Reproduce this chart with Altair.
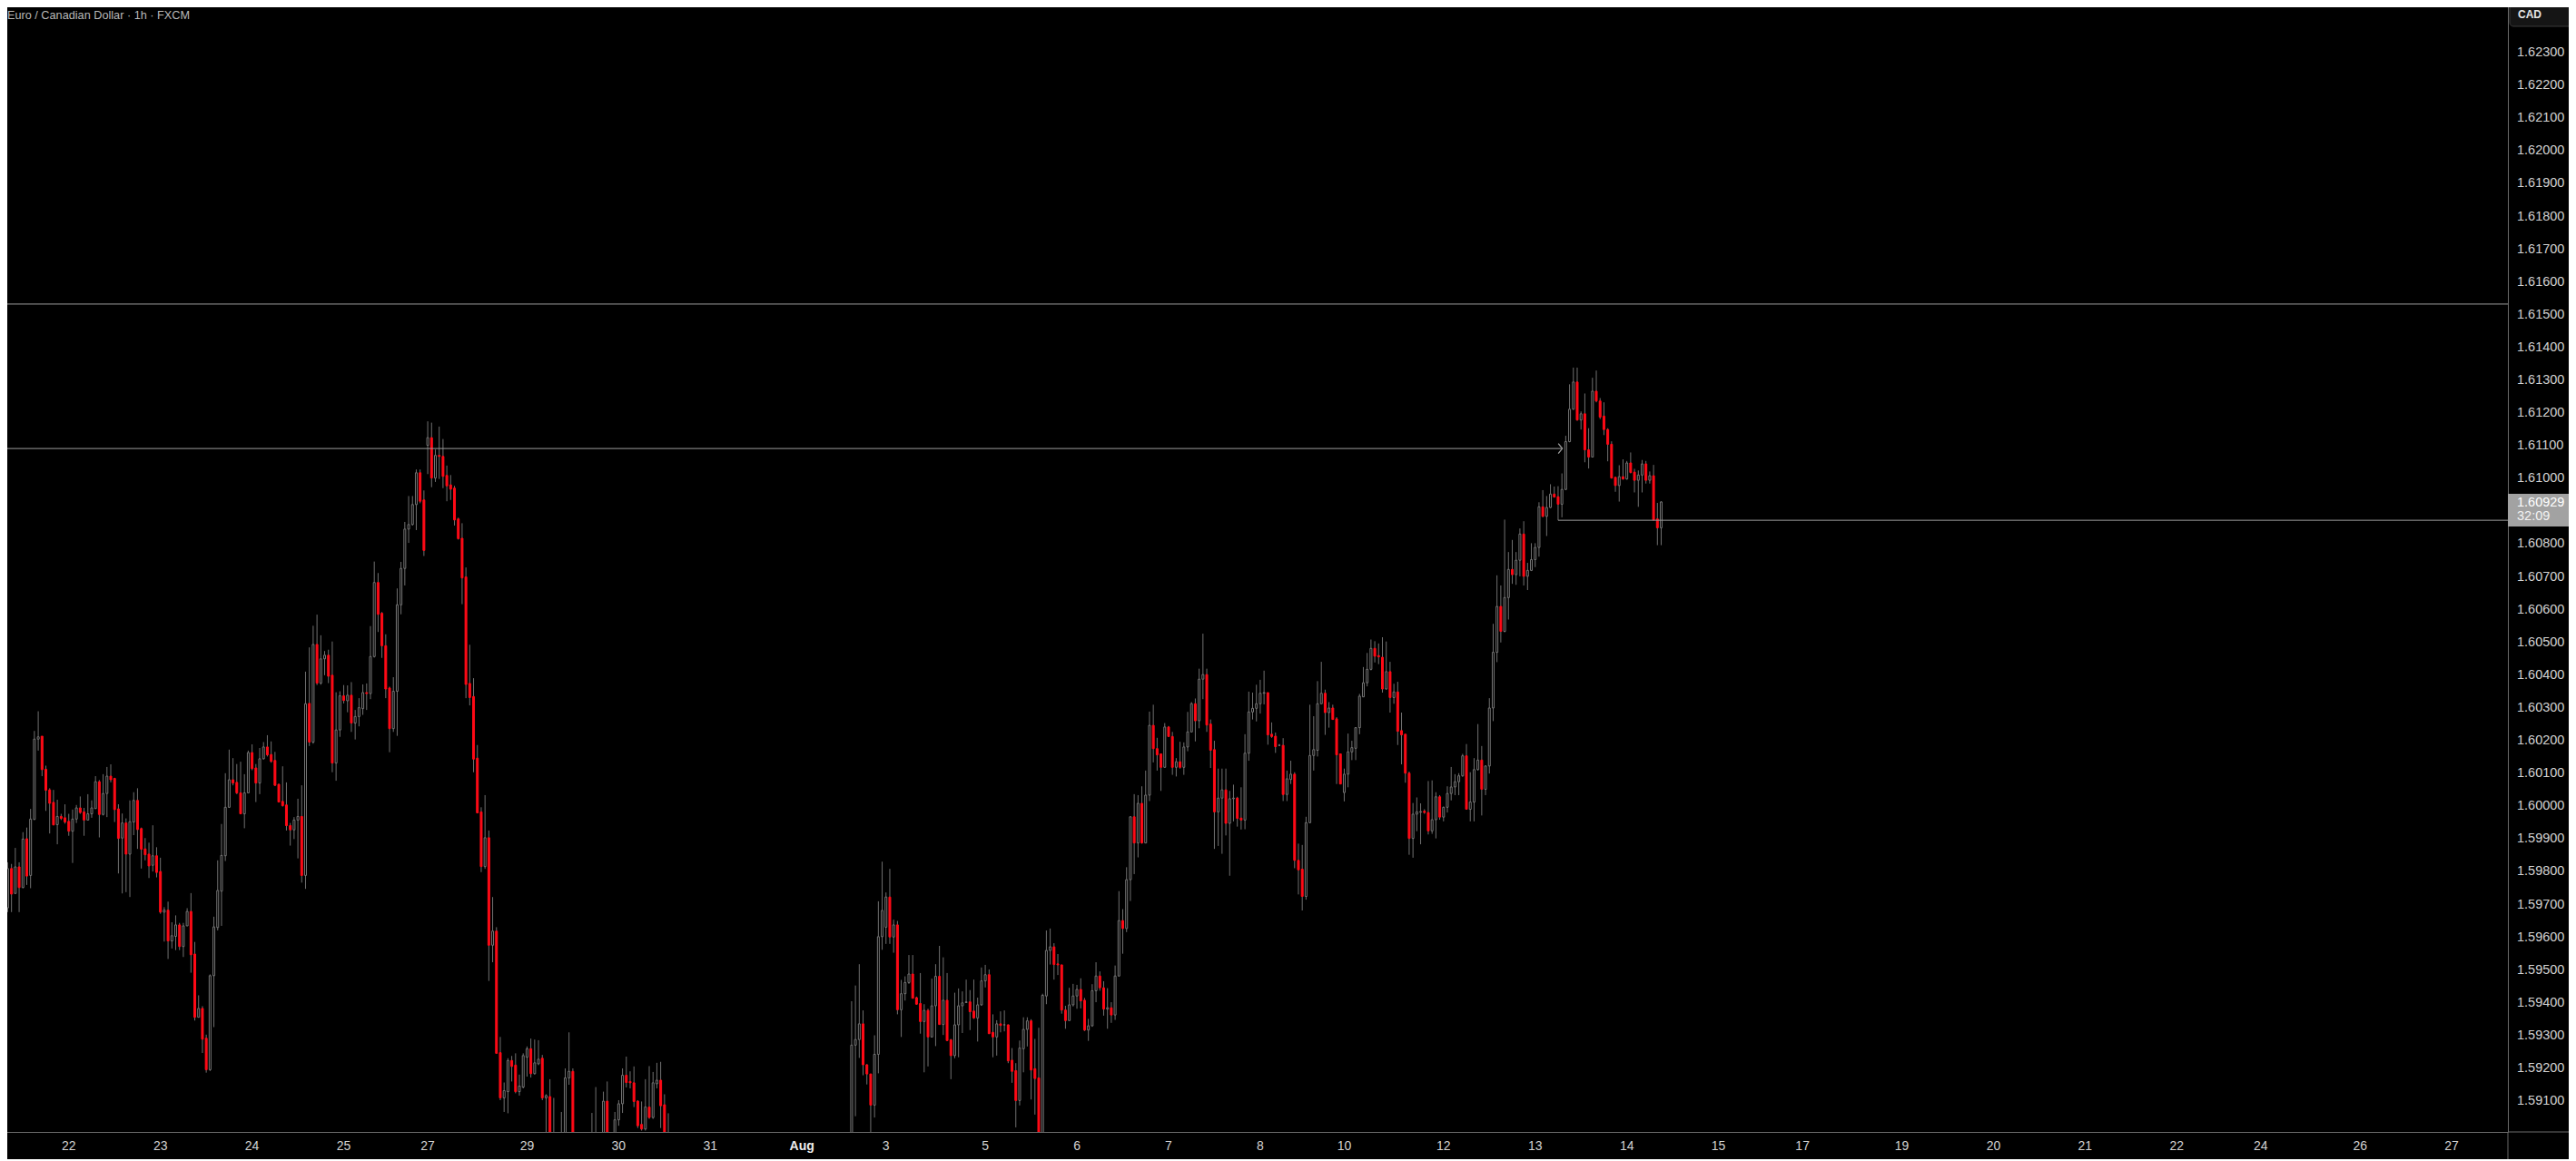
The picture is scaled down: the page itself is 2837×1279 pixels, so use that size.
import altair as alt
import pandas as pd

# ---------------- text ----------------
TITLE = "Euro / Canadian Dollar · 1h · FXCM"
CURRENCY = "CAD"
COUNTDOWN = "32:09"

# ---------------- candles (hourly bar number, 0 = 22 Jul 00:00; weekends skipped) ----------------
IDX = (list(range(-17, 128)) + [129, 130, 131, 132, 137, 138, 140, 141]
       + list(range(143, 158)) + list(range(205, 418)))

OPEN = [
    1.59572, 1.59690, 1.59810, 1.59734, 1.59815, 1.59752, 1.59901, 1.59789, 1.59960, 1.60205,
    1.60214, 1.60113, 1.60050, 1.60012, 1.59944, 1.59969, 1.59965, 1.59954, 1.59924, 1.59961,
    1.59995, 1.59983, 1.59958, 1.59977, 1.59993, 1.60075, 1.59975, 1.60039, 1.60092, 1.60085,
    1.59992, 1.59903, 1.59949, 1.59854, 1.59952, 1.60018, 1.59932, 1.59870, 1.59854, 1.59820,
    1.59849, 1.59801, 1.59677, 1.59683, 1.59589, 1.59603, 1.59638, 1.59572, 1.59635, 1.59679,
    1.59549, 1.59356, 1.59383, 1.59292, 1.59196, 1.59483, 1.59630, 1.59741, 1.59849, 1.59997,
    1.60081, 1.60073, 1.60041, 1.59977, 1.60041, 1.60164, 1.60117, 1.60071, 1.60145, 1.60181,
    1.60158, 1.60140, 1.60067, 1.60015, 1.60004, 1.59941, 1.59928, 1.59958, 1.59969, 1.59789,
    1.60314, 1.60196, 1.60494, 1.60376, 1.60450, 1.60461, 1.60400, 1.60132, 1.60233, 1.60337,
    1.60322, 1.60339, 1.60254, 1.60274, 1.60298, 1.60347, 1.60344, 1.60457, 1.60683, 1.60589,
    1.60490, 1.60361, 1.60237, 1.60351, 1.60615, 1.60726, 1.60846, 1.60860, 1.60921, 1.61018,
    1.60935, 1.61102, 1.61125, 1.61002, 1.61071, 1.61068, 1.61010, 1.60981, 1.60971, 1.60877,
    1.60818, 1.60700, 1.60375, 1.60335, 1.60147, 1.59983, 1.59816, 1.59904, 1.59576, 1.59619,
    1.59248, 1.59110, 1.59129, 1.59224, 1.59210, 1.59129, 1.59143, 1.59234, 1.59260, 1.59184,
    1.59214, 1.59231, 1.59110, 1.59114, 1.58930,
    1.58920, 1.58980, 1.59171, 1.59191, 1.58930, 1.58980, 1.58950, 1.59100,
    1.58980, 1.59043, 1.59092, 1.59179, 1.59160, 1.59156, 1.59100, 1.59029, 1.59015, 1.59082,
    1.59050, 1.59153, 1.59164, 1.59089, 1.58950,
    1.58970, 1.59271, 1.59288, 1.59336, 1.59211, 1.59183, 1.59088, 1.59243, 1.59602, 1.59631,
    1.59723, 1.59601, 1.59638, 1.59379, 1.59428, 1.59462, 1.59488, 1.59416, 1.59398, 1.59343,
    1.59377, 1.59296, 1.59391, 1.59481, 1.59334, 1.59408, 1.59287, 1.59239, 1.59333, 1.59391,
    1.59401, 1.59403, 1.59375, 1.59354, 1.59394, 1.59467, 1.59486, 1.59310, 1.59296, 1.59336,
    1.59333, 1.59333, 1.59225, 1.59193, 1.59102, 1.59260, 1.59319, 1.59345, 1.59199, 1.59171,
    1.58980, 1.59421, 1.59560, 1.59571, 1.59519, 1.59516, 1.59378, 1.59346, 1.59394, 1.59421,
    1.59441, 1.59408, 1.59317, 1.59330, 1.59437, 1.59482, 1.59446, 1.59381, 1.59385, 1.59363,
    1.59482, 1.59651, 1.59627, 1.59776, 1.59968, 1.59888, 1.60009, 1.59888, 1.60034, 1.60247,
    1.60176, 1.60160, 1.60119, 1.60242, 1.60213, 1.60119, 1.60136, 1.60119, 1.60181, 1.60227,
    1.60313, 1.60261, 1.60388, 1.60402, 1.60251, 1.60173, 1.59983, 1.60025, 1.60050, 1.59948,
    1.60023, 1.60025, 1.59964, 1.59958, 1.60162, 1.60288, 1.60299, 1.60313, 1.60345, 1.60347,
    1.60220, 1.60214, 1.60186, 1.60186, 1.60036, 1.60082, 1.60098, 1.59835, 1.59808, 1.59725,
    1.59950, 1.60155, 1.60171, 1.60313, 1.60345, 1.60286, 1.60300, 1.60267, 1.60160, 1.60042,
    1.60098, 1.60166, 1.60177, 1.60240, 1.60334, 1.60377, 1.60418, 1.60482, 1.60460, 1.60455,
    1.60358, 1.60411, 1.60332, 1.60349, 1.60231, 1.60220, 1.60101, 1.59902, 1.59976, 1.59982,
    1.59985, 1.59981, 1.59925, 1.59959, 1.60029, 1.59967, 1.59997, 1.60039, 1.60059, 1.60075,
    1.60093, 1.60154, 1.59991, 1.60013, 1.60112, 1.60141, 1.60052, 1.60123, 1.60300, 1.60470,
    1.60610, 1.60534, 1.60637, 1.60723, 1.60707, 1.60751, 1.60831, 1.60702, 1.60720, 1.60753,
    1.60790, 1.60914, 1.60885, 1.60912, 1.60953, 1.60945, 1.60922, 1.60967, 1.61113, 1.61212,
    1.61295, 1.61179, 1.61198, 1.61088, 1.61066, 1.61267, 1.61237, 1.61191, 1.61150, 1.61105,
    1.61004, 1.60979, 1.61006, 1.60999, 1.61048, 1.61020, 1.60995, 1.61011, 1.61045, 1.60995,
    1.61009, 1.60877, 1.60850,
]

HIGH = [
    1.59695, 1.59829, 1.59824, 1.59873, 1.59829, 1.59921, 1.59935, 1.59992, 1.60230, 1.60290,
    1.60214, 1.60124, 1.60055, 1.60050, 1.60020, 1.59977, 1.60006, 1.59977, 1.59990, 1.60004,
    1.60030, 1.59995, 1.60037, 1.60018, 1.60092, 1.60080, 1.60098, 1.60120, 1.60128, 1.60087,
    1.60006, 1.59978, 1.59963, 1.60018, 1.60043, 1.60055, 1.59935, 1.59903, 1.59889, 1.59942,
    1.59875, 1.59843, 1.59692, 1.59709, 1.59646, 1.59667, 1.59644, 1.59644, 1.59689, 1.59735,
    1.59586, 1.59423, 1.59390, 1.59303, 1.59487, 1.59663, 1.59835, 1.59946, 1.60101, 1.60173,
    1.60147, 1.60129, 1.60136, 1.60098, 1.60170, 1.60189, 1.60129, 1.60178, 1.60196, 1.60217,
    1.60198, 1.60166, 1.60069, 1.60122, 1.60073, 1.59949, 1.59967, 1.60023, 1.60064, 1.60411,
    1.60485, 1.60551, 1.60585, 1.60522, 1.60474, 1.60478, 1.60503, 1.60348, 1.60351, 1.60370,
    1.60369, 1.60379, 1.60294, 1.60330, 1.60372, 1.60375, 1.60550, 1.60747, 1.60712, 1.60593,
    1.60525, 1.60365, 1.60394, 1.60665, 1.60746, 1.60868, 1.60947, 1.60947, 1.61028, 1.61028,
    1.60964, 1.61175, 1.61171, 1.61089, 1.61159, 1.61121, 1.61040, 1.61011, 1.60978, 1.60881,
    1.60864, 1.60729, 1.60493, 1.60391, 1.60187, 1.59997, 1.60034, 1.59926, 1.59723, 1.59631,
    1.59296, 1.59157, 1.59231, 1.59238, 1.59246, 1.59181, 1.59246, 1.59267, 1.59291, 1.59288,
    1.59286, 1.59241, 1.59121, 1.59167, 1.59110,
    1.59067, 1.59200, 1.59310, 1.59200, 1.59064, 1.59143, 1.59129, 1.59160,
    1.59067, 1.59103, 1.59200, 1.59236, 1.59191, 1.59206, 1.59103, 1.59099, 1.59167, 1.59207,
    1.59189, 1.59217, 1.59220, 1.59121, 1.59063,
    1.59405, 1.59453, 1.59518, 1.59377, 1.59213, 1.59183, 1.59301, 1.59710, 1.59831, 1.59737,
    1.59809, 1.59654, 1.59650, 1.59470, 1.59481, 1.59546, 1.59546, 1.59419, 1.59491, 1.59396,
    1.59382, 1.59474, 1.59518, 1.59574, 1.59539, 1.59491, 1.59290, 1.59431, 1.59444, 1.59435,
    1.59471, 1.59439, 1.59471, 1.59416, 1.59508, 1.59516, 1.59502, 1.59365, 1.59347, 1.59374,
    1.59377, 1.59334, 1.59262, 1.59216, 1.59285, 1.59356, 1.59356, 1.59350, 1.59290, 1.59324,
    1.59428, 1.59621, 1.59627, 1.59582, 1.59549, 1.59516, 1.59391, 1.59446, 1.59458, 1.59455,
    1.59475, 1.59415, 1.59351, 1.59457, 1.59524, 1.59496, 1.59466, 1.59445, 1.59402, 1.59514,
    1.59741, 1.59686, 1.59814, 1.59968, 1.60037, 1.60034, 1.60061, 1.60109, 1.60289, 1.60310,
    1.60209, 1.60160, 1.60254, 1.60245, 1.60227, 1.60147, 1.60197, 1.60195, 1.60288, 1.60318,
    1.60329, 1.60420, 1.60527, 1.60420, 1.60265, 1.60200, 1.60115, 1.60115, 1.60115, 1.60047,
    1.60066, 1.60029, 1.60058, 1.60220, 1.60350, 1.60347, 1.60371, 1.60386, 1.60414, 1.60347,
    1.60256, 1.60225, 1.60190, 1.60208, 1.60109, 1.60139, 1.60104, 1.59886, 1.59882, 1.59968,
    1.60310, 1.60275, 1.60382, 1.60441, 1.60356, 1.60318, 1.60310, 1.60272, 1.60160, 1.60115,
    1.60222, 1.60200, 1.60240, 1.60343, 1.60425, 1.60468, 1.60509, 1.60504, 1.60497, 1.60516,
    1.60503, 1.60441, 1.60374, 1.60380, 1.60286, 1.60220, 1.60106, 1.60010, 1.60027, 1.60009,
    1.59991, 1.60077, 1.60079, 1.60043, 1.60034, 1.59999, 1.60061, 1.60120, 1.60098, 1.60101,
    1.60160, 1.60190, 1.60104, 1.60147, 1.60251, 1.60184, 1.60125, 1.60330, 1.60557, 1.60705,
    1.60674, 1.60875, 1.60776, 1.60813, 1.60776, 1.60848, 1.60870, 1.60743, 1.60803, 1.60803,
    1.60928, 1.60965, 1.60947, 1.60983, 1.60976, 1.60977, 1.61016, 1.61131, 1.61288, 1.61339,
    1.61339, 1.61205, 1.61260, 1.61154, 1.61308, 1.61330, 1.61246, 1.61233, 1.61154, 1.61114,
    1.61006, 1.61041, 1.61059, 1.61054, 1.61080, 1.61030, 1.61025, 1.61057, 1.61054, 1.61022,
    1.61042, 1.60926, 1.60931,
]

LOW = [
    1.59534, 1.59677, 1.59677, 1.59732, 1.59677, 1.59750, 1.59760, 1.59750, 1.59958, 1.60170,
    1.60092, 1.59986, 1.59917, 1.59943, 1.59884, 1.59958, 1.59947, 1.59910, 1.59827, 1.59949,
    1.59977, 1.59910, 1.59958, 1.59965, 1.59993, 1.59905, 1.59972, 1.59967, 1.60073, 1.59952,
    1.59795, 1.59734, 1.59738, 1.59723, 1.59912, 1.59870, 1.59810, 1.59835, 1.59781, 1.59801,
    1.59783, 1.59672, 1.59587, 1.59534, 1.59566, 1.59561, 1.59561, 1.59540, 1.59635, 1.59492,
    1.59346, 1.59356, 1.59247, 1.59187, 1.59192, 1.59326, 1.59621, 1.59635, 1.59833, 1.59995,
    1.60064, 1.60037, 1.59977, 1.59933, 1.60041, 1.60110, 1.60013, 1.60037, 1.60143, 1.60152,
    1.60133, 1.60062, 1.60012, 1.59999, 1.59926, 1.59880, 1.59900, 1.59841, 1.59767, 1.59748,
    1.60184, 1.60191, 1.60370, 1.60371, 1.60400, 1.60376, 1.60104, 1.60078, 1.60212, 1.60314,
    1.60287, 1.60227, 1.60204, 1.60244, 1.60279, 1.60294, 1.60327, 1.60454, 1.60532, 1.60453,
    1.60330, 1.60165, 1.60227, 1.60215, 1.60586, 1.60674, 1.60804, 1.60857, 1.60843, 1.60925,
    1.60764, 1.61014, 1.60974, 1.60990, 1.60999, 1.60971, 1.60931, 1.60935, 1.60857, 1.60814,
    1.60617, 1.60330, 1.60308, 1.60104, 1.59980, 1.59799, 1.59809, 1.59467, 1.59524, 1.59246,
    1.59103, 1.59067, 1.59063, 1.59160, 1.59124, 1.59117, 1.59139, 1.59175, 1.59172, 1.59181,
    1.59210, 1.59103, 1.58950, 1.58880, 1.58890,
    1.58890, 1.58960, 1.59150, 1.58930, 1.58900, 1.58930, 1.58930, 1.58930,
    1.58950, 1.59025, 1.59064, 1.59142, 1.59139, 1.59082, 1.59018, 1.59010, 1.59010, 1.59046,
    1.59046, 1.59139, 1.59018, 1.58920, 1.58870,
    1.58930, 1.59054, 1.59232, 1.59179, 1.59151, 1.58980, 1.59050, 1.59185, 1.59562, 1.59580,
    1.59580, 1.59553, 1.59365, 1.59296, 1.59407, 1.59458, 1.59414, 1.59394, 1.59306, 1.59188,
    1.59206, 1.59294, 1.59268, 1.59334, 1.59302, 1.59285, 1.59167, 1.59231, 1.59234, 1.59308,
    1.59400, 1.59317, 1.59351, 1.59282, 1.59391, 1.59447, 1.59305, 1.59234, 1.59239, 1.59310,
    1.59313, 1.59216, 1.59156, 1.59020, 1.59087, 1.59188, 1.59267, 1.59105, 1.59059, 1.58950,
    1.58960, 1.59396, 1.59517, 1.59471, 1.59485, 1.59367, 1.59321, 1.59346, 1.59389, 1.59382,
    1.59383, 1.59314, 1.59284, 1.59327, 1.59402, 1.59437, 1.59361, 1.59321, 1.59339, 1.59348,
    1.59480, 1.59550, 1.59616, 1.59711, 1.59793, 1.59844, 1.59886, 1.59888, 1.60016, 1.60134,
    1.60109, 1.60047, 1.60119, 1.60213, 1.60096, 1.60091, 1.60115, 1.60096, 1.60168, 1.60227,
    1.60198, 1.60238, 1.60327, 1.60227, 1.60117, 1.59870, 1.59879, 1.59855, 1.59911, 1.59788,
    1.59954, 1.59938, 1.59929, 1.59930, 1.60139, 1.60265, 1.60259, 1.60283, 1.60311, 1.60188,
    1.60209, 1.60163, 1.60184, 1.60016, 1.60016, 1.60068, 1.59811, 1.59731, 1.59682, 1.59715,
    1.59948, 1.60109, 1.60152, 1.60313, 1.60218, 1.60240, 1.60265, 1.60068, 1.60068, 1.60015,
    1.60058, 1.60141, 1.60141, 1.60220, 1.60334, 1.60366, 1.60415, 1.60439, 1.60434, 1.60347,
    1.60356, 1.60286, 1.60313, 1.60187, 1.60128, 1.60072, 1.59852, 1.59843, 1.59924, 1.59884,
    1.59977, 1.59914, 1.59916, 1.59902, 1.59959, 1.59954, 1.59981, 1.60018, 1.60034, 1.60034,
    1.60090, 1.59991, 1.59954, 1.59954, 1.60109, 1.59972, 1.60034, 1.60100, 1.60260, 1.60440,
    1.60500, 1.60531, 1.60570, 1.60679, 1.60676, 1.60702, 1.60674, 1.60660, 1.60718, 1.60730,
    1.60762, 1.60882, 1.60825, 1.60910, 1.60942, 1.60873, 1.60882, 1.60965, 1.61111, 1.61210,
    1.61177, 1.61150, 1.61050, 1.61031, 1.61066, 1.61233, 1.61182, 1.61133, 1.61053, 1.61000,
    1.60960, 1.60930, 1.60997, 1.60997, 1.61016, 1.60958, 1.60914, 1.60958, 1.60985, 1.60985,
    1.60873, 1.60797, 1.60797,
]

CLOSE = [
    1.59690, 1.59810, 1.59732, 1.59815, 1.59752, 1.59900, 1.59787, 1.59961, 1.60205, 1.60212,
    1.60112, 1.60049, 1.60009, 1.59943, 1.59969, 1.59963, 1.59952, 1.59924, 1.59961, 1.59995,
    1.59981, 1.59958, 1.59977, 1.59995, 1.60075, 1.59975, 1.60039, 1.60092, 1.60081, 1.59990,
    1.59902, 1.59949, 1.59854, 1.59953, 1.60018, 1.59929, 1.59869, 1.59852, 1.59818, 1.59849,
    1.59798, 1.59677, 1.59683, 1.59589, 1.59605, 1.59638, 1.59572, 1.59635, 1.59679, 1.59547,
    1.59356, 1.59383, 1.59289, 1.59196, 1.59483, 1.59632, 1.59743, 1.59850, 1.59997, 1.60081,
    1.60071, 1.60041, 1.59977, 1.60041, 1.60164, 1.60115, 1.60071, 1.60145, 1.60181, 1.60157,
    1.60137, 1.60064, 1.60013, 1.60002, 1.59941, 1.59928, 1.59958, 1.59969, 1.59789, 1.60313,
    1.60196, 1.60494, 1.60376, 1.60450, 1.60461, 1.60397, 1.60132, 1.60233, 1.60337, 1.60323,
    1.60339, 1.60254, 1.60274, 1.60301, 1.60347, 1.60344, 1.60457, 1.60683, 1.60586, 1.60490,
    1.60358, 1.60237, 1.60351, 1.60615, 1.60726, 1.60846, 1.60860, 1.60921, 1.61018, 1.60931,
    1.60781, 1.61125, 1.61002, 1.61071, 1.61068, 1.61007, 1.60978, 1.60968, 1.60874, 1.60817,
    1.60697, 1.60372, 1.60332, 1.60144, 1.59980, 1.59816, 1.59904, 1.59576, 1.59619, 1.59246,
    1.59110, 1.59132, 1.59224, 1.59206, 1.59129, 1.59146, 1.59239, 1.59260, 1.59184, 1.59217,
    1.59228, 1.59110, 1.59117, 1.58930, 1.58960,
    1.58980, 1.59171, 1.59191, 1.58960, 1.58980, 1.58990, 1.59100, 1.58960,
    1.59043, 1.59092, 1.59179, 1.59157, 1.59156, 1.59099, 1.59025, 1.59015, 1.59082, 1.59050,
    1.59156, 1.59164, 1.59086, 1.58950, 1.58910,
    1.59271, 1.59288, 1.59336, 1.59211, 1.59183, 1.59088, 1.59243, 1.59602, 1.59682, 1.59723,
    1.59601, 1.59638, 1.59379, 1.59428, 1.59462, 1.59488, 1.59414, 1.59396, 1.59343, 1.59377,
    1.59296, 1.59391, 1.59481, 1.59334, 1.59408, 1.59285, 1.59239, 1.59333, 1.59391, 1.59400,
    1.59403, 1.59373, 1.59354, 1.59394, 1.59467, 1.59486, 1.59306, 1.59296, 1.59336, 1.59331,
    1.59333, 1.59223, 1.59191, 1.59102, 1.59262, 1.59319, 1.59345, 1.59195, 1.59169, 1.58980,
    1.59423, 1.59560, 1.59571, 1.59517, 1.59516, 1.59378, 1.59346, 1.59394, 1.59421, 1.59441,
    1.59406, 1.59317, 1.59330, 1.59437, 1.59482, 1.59446, 1.59381, 1.59385, 1.59363, 1.59482,
    1.59651, 1.59627, 1.59776, 1.59968, 1.59888, 1.60009, 1.59888, 1.60034, 1.60247, 1.60176,
    1.60157, 1.60119, 1.60242, 1.60213, 1.60119, 1.60136, 1.60119, 1.60181, 1.60227, 1.60313,
    1.60261, 1.60388, 1.60402, 1.60248, 1.60171, 1.59983, 1.60025, 1.60050, 1.59948, 1.60023,
    1.60025, 1.59963, 1.59958, 1.60162, 1.60288, 1.60299, 1.60313, 1.60345, 1.60347, 1.60218,
    1.60213, 1.60182, 1.60186, 1.60036, 1.60084, 1.60098, 1.59835, 1.59806, 1.59725, 1.59950,
    1.60155, 1.60173, 1.60313, 1.60345, 1.60286, 1.60300, 1.60265, 1.60157, 1.60068, 1.60098,
    1.60166, 1.60179, 1.60240, 1.60336, 1.60377, 1.60418, 1.60482, 1.60458, 1.60456, 1.60358,
    1.60411, 1.60332, 1.60349, 1.60229, 1.60218, 1.60101, 1.59902, 1.59976, 1.59983, 1.59984,
    1.59981, 1.59925, 1.59959, 1.60029, 1.59967, 1.59997, 1.60039, 1.60059, 1.60075, 1.60093,
    1.60154, 1.59991, 1.60013, 1.60112, 1.60141, 1.60052, 1.60123, 1.60300, 1.60470, 1.60610,
    1.60534, 1.60637, 1.60723, 1.60707, 1.60751, 1.60831, 1.60702, 1.60720, 1.60753, 1.60790,
    1.60914, 1.60885, 1.60912, 1.60953, 1.60944, 1.60922, 1.60967, 1.61113, 1.61212, 1.61295,
    1.61179, 1.61198, 1.61088, 1.61066, 1.61267, 1.61237, 1.61188, 1.61150, 1.61105, 1.61002,
    1.60979, 1.61006, 1.60999, 1.61048, 1.61019, 1.60995, 1.61011, 1.61045, 1.60995, 1.61009,
    1.60874, 1.60850, 1.60929,
]

assert len(IDX) == len(OPEN) == len(HIGH) == len(LOW) == len(CLOSE), (
    len(IDX), len(OPEN), len(HIGH), len(LOW), len(CLOSE))

# ---------------- axes ----------------
DAY_TICKS = [0, 24, 48, 72, 94, 120, 144, 168, 192, 214, 240, 264, 288, 312, 334,
             360, 384, 408, 432, 454, 480, 504, 528, 552, 574, 600, 624]
DAY_LABELS = ["22", "23", "24", "25", "27", "29", "30", "31", "Aug", "3", "5", "6", "7",
              "8", "10", "12", "13", "14", "15", "17", "19", "20", "21", "22", "24", "26", "27"]
# price-scale labels (1.60900 sits under the last-price tag and is not drawn)
PRICE_TICKS = [1.591, 1.592, 1.593, 1.594, 1.595, 1.596, 1.597, 1.598, 1.599, 1.600,
               1.601, 1.602, 1.603, 1.604, 1.605, 1.606, 1.607, 1.608, 1.610,
               1.611, 1.612, 1.613, 1.614, 1.615, 1.616, 1.617, 1.618, 1.619, 1.620,
               1.621, 1.622, 1.623]
X_DOMAIN = [-16.82, 637.53]
Y_DOMAIN = [1.59006, 1.62461]

# ---------------- drawings ----------------
LEVEL_UPPER = 1.61533
LEVEL_ARROW = 1.61092
ARROW_FROM, ARROW_TO = -20, 391.1
LEVEL_RAY = 1.60873
RAY_FROM, RAY_TO = 390, 660

# ---------------- style ----------------
W, H = 2762, 1247
FONT = "Liberation Sans"
BG = "#000000"
BULL = "#767676"
WICK = "#707070"
BEAR = "#ff0a16"
LINE = "#9c9c9c"
AXIS = "#6a6a6a"
LABEL = "#d2d2d2"

df = pd.DataFrame({"i": IDX, "o": OPEN, "h": HIGH, "l": LOW, "c": CLOSE})

xs = alt.Scale(domain=X_DOMAIN, nice=False, zero=False)
ys = alt.Scale(domain=Y_DOMAIN, nice=False, zero=False)

xaxis = alt.Axis(labels=False, ticks=False, grid=False, domainColor=AXIS, domainWidth=1,
                 title=None)
yaxis = alt.Axis(orient="right", labels=False, ticks=False, grid=False, domainColor=AXIS,
                 domainWidth=1, title=None)

base = alt.Chart(df)

wicks = base.mark_rule(color=WICK, strokeWidth=1, clip=True).encode(
    x=alt.X("i:Q", scale=xs, axis=xaxis),
    y=alt.Y("l:Q", scale=ys, axis=yaxis),
    y2="h:Q",
)

bull = base.transform_filter("datum.c >= datum.o").mark_bar(
    width=2, fill=BG, stroke=BULL, strokeWidth=1, clip=True
).encode(
    x=alt.X("i:Q", scale=xs),
    y=alt.Y("o:Q", scale=ys),
    y2="c:Q",
)

bear = base.transform_filter("datum.c < datum.o").mark_bar(
    width=2, fill=BEAR, stroke=BEAR, strokeWidth=1, clip=True
).encode(
    x=alt.X("i:Q", scale=xs),
    y=alt.Y("o:Q", scale=ys),
    y2="c:Q",
)

# price-scale labels
price_df = pd.DataFrame({"v": PRICE_TICKS, "t": ["{:.5f}".format(v) for v in PRICE_TICKS]})
price_labels = alt.Chart(price_df).mark_text(
    align="left", baseline="middle", font=FONT, fontSize=14.5, color=LABEL
).encode(x=alt.value(W + 10), y=alt.Y("v:Q", scale=ys), text="t:N")

# time-scale labels ("Aug" month label is bold)
day_df = pd.DataFrame({"d": DAY_TICKS, "t": DAY_LABELS})
day_labels = alt.Chart(day_df).transform_filter("datum.t != 'Aug'").mark_text(
    align="center", baseline="middle", font=FONT, fontSize=14, color=LABEL
).encode(x=alt.X("d:Q", scale=xs), y=alt.value(H + 16), text="t:N")
month_label = alt.Chart(day_df).transform_filter("datum.t == 'Aug'").mark_text(
    align="center", baseline="middle", font=FONT, fontSize=14, fontWeight="bold",
    color="#ededed"
).encode(x=alt.X("d:Q", scale=xs), y=alt.value(H + 16), text="t:N")

upper = alt.Chart(pd.DataFrame({"y": [LEVEL_UPPER]})).mark_rule(
    color=LINE, strokeWidth=1, clip=True
).encode(y=alt.Y("y:Q", scale=ys))

segs = alt.Chart(pd.DataFrame({
    "y": [LEVEL_ARROW, LEVEL_RAY],
    "x0": [ARROW_FROM, RAY_FROM],
    "x1": [ARROW_TO, RAY_TO],
})).mark_rule(color=LINE, strokeWidth=1, clip=True).encode(
    x=alt.X("x0:Q", scale=xs),
    x2="x1:Q",
    y=alt.Y("y:Q", scale=ys),
)

arrow = alt.Chart(pd.DataFrame({"x": [ARROW_TO], "y": [LEVEL_ARROW]})).mark_point(
    shape="M-0.8,-1L0,0L-0.8,1", size=121, filled=False, stroke=LINE, strokeWidth=1.3,
    opacity=1
).encode(
    x=alt.X("x:Q", scale=xs),
    y=alt.Y("y:Q", scale=ys),
)

last_df = pd.DataFrame({"p": [CLOSE[-1]], "t": ["{:.5f}".format(CLOSE[-1])], "cd": [COUNTDOWN]})
last_box = alt.Chart(last_df).mark_rect(fill="#a2a2a2", yOffset=-9, y2Offset=27).encode(
    x=alt.value(W), x2=alt.value(W + 71),
    y=alt.Y("p:Q", scale=ys), y2="p:Q",
)
last_txt = alt.Chart(last_df).mark_text(
    align="left", baseline="middle", font=FONT, fontSize=14.5, color="#ffffff", dy=1
).encode(x=alt.value(W + 10), y=alt.Y("p:Q", scale=ys), text="t:N")
last_cd = alt.Chart(last_df).mark_text(
    align="left", baseline="middle", font=FONT, fontSize=14.5, color="#f2f2f2", dy=16
).encode(x=alt.value(W + 10), y=alt.Y("p:Q", scale=ys), text="cd:N")

deco = pd.DataFrame({"title": [TITLE], "cur": [CURRENCY]})
title = alt.Chart(deco).mark_text(
    align="left", baseline="middle", font=FONT, fontSize=12.7, color="#b8b8b8"
).encode(x=alt.value(8), y=alt.value(17), text="title:N")

cad_box = alt.Chart(deco).mark_rect(
    fill="#151515", stroke="#3a3a3a", strokeWidth=1, cornerRadius=4
).encode(x=alt.value(W + 2), x2=alt.value(W + 71), y=alt.value(3), y2=alt.value(29))
cad_txt = alt.Chart(deco).mark_text(
    align="left", baseline="middle", font=FONT, fontSize=12, fontWeight="bold", color="#e6e6e6"
).encode(x=alt.value(W + 11), y=alt.value(16), text="cur:N")

ext_h = alt.Chart(deco).mark_rule(color=AXIS, strokeWidth=1).encode(
    x=alt.value(W), x2=alt.value(W + 90), y=alt.value(H))
ext_v = alt.Chart(deco).mark_rule(color=AXIS, strokeWidth=1).encode(
    x=alt.value(W), y=alt.value(H), y2=alt.value(H + 40))

chart = alt.layer(
    wicks, bull, bear, upper, segs, arrow, price_labels, day_labels, month_label,
    last_box, last_txt, last_cd, title, cad_box, cad_txt, ext_h, ext_v,
).properties(
    width=W, height=H,
    autosize=alt.AutoSizeParams(type="none"),
    padding={"left": -8, "top": -8, "right": 67, "bottom": 30},
    background=BG,
).configure_view(strokeWidth=0)

chart.save("out.html", embed_options={"renderer": "svg", "actions": False})
